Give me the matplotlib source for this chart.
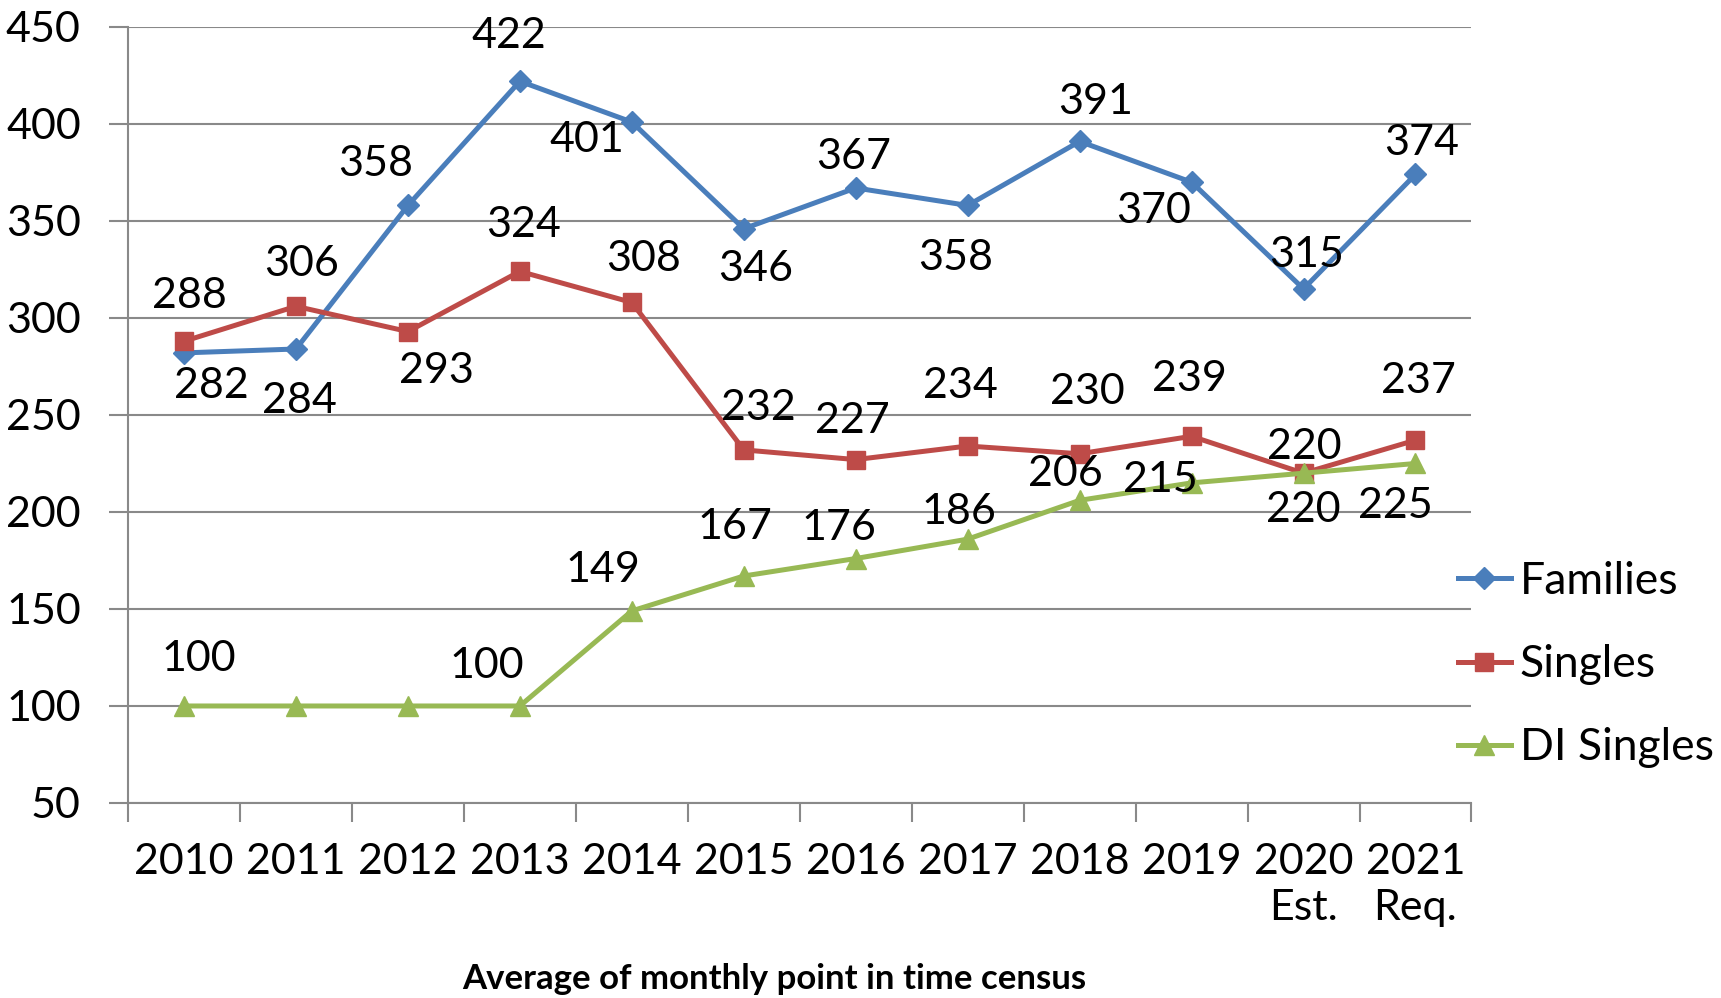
import matplotlib.pyplot as plt

years = ['2010', '2011', '2012', '2013', '2014', '2015', '2016', '2017', '2018', '2019', '2020\nEst.', '2021\nReq.']
families = [282, 284, 358, 422, 401, 346, 367, 358, 391, 370, 315, 374]
singles = [288, 306, 293, 324, 308, 232, 227, 234, 230, 239, 220, 237]
di_singles = [100, 100, 100, 100, 149, 167, 176, 186, 206, 215, 220, 225]
di_labelled = [True, False, False, True, True, True, True, True, True, True, True, True]

# label offsets (px, right / down)
fam_off = [(25, 30), (3, 47), (-29, -38), (-10, -41), (-41, 16), (11, 37),
           (-2, -28), (-11, 48), (15, -36), (-35, 26), (3, -31), (6, -29)]
sin_off = [(5, -41), (5, -39), (26, 36), (3, -42), (11, -40), (13, -38),
           (-3, -35), (-7, -55), (7, -56), (-2, -52), (1, -24), (3, -54)]
di_off = [(13, -43), (0, 0), (0, 0), (-30, -36), (-26, -37), (-8, -45),
          (-15, -28), (-8, -25), (-13, -24), (-28, -3), (0, 34), (-18, 39)]

plt.rcParams['font.family'] = ['Lato', 'DejaVu Sans']

fig = plt.figure(figsize=(17.21, 9.98), dpi=100)
ax = fig.add_axes([0.0744, 0.1954, 0.7806, 0.7776])

blue = '#4A7EBB'
red = '#BE4B48'
green = '#98B954'
x = list(range(len(years)))

ax.plot(x, families, color=blue, lw=3.6, marker='D', ms=11, label='Families')
ax.plot(x, singles, color=red, lw=3.6, marker='s', ms=13, label='Singles')
ax.plot(x, di_singles, color=green, lw=3.6, marker='^', ms=14, label='DI Singles')

k = 1.0976
for vals, offs, show in [(families, fam_off, [True] * 12), (singles, sin_off, [True] * 12),
                         (di_singles, di_off, di_labelled)]:
    for i, v in enumerate(vals):
        if not show[i]:
            continue
        ax.annotate(str(v), (i, v), xytext=(offs[i][0] * k, -offs[i][1] * k),
                    textcoords='offset pixels', ha='center', va='center', fontsize=31)

ax.set_xlim(-0.5, 11.5)
ax.set_ylim(50, 450)
ax.set_yticks(range(50, 451, 50))
ax.grid(axis='y', color='#898989', lw=1.5)
ax.set_axisbelow(True)
for s in ['top', 'right']:
    ax.spines[s].set_visible(False)
for s in ['left', 'bottom']:
    ax.spines[s].set_color('#898989')
    ax.spines[s].set_linewidth(1.5)

ax.set_xticks(x)
ax.set_xticklabels(years, fontsize=31, linespacing=1.25)
ax.set_xticks([i - 0.5 for i in range(13)], minor=True)
ax.tick_params(axis='x', which='major', length=0, pad=29)
ax.tick_params(axis='x', which='minor', length=14, color='#898989', width=1.5)
ax.tick_params(axis='y', length=14, color='#898989', width=1.5, labelsize=31, pad=20)

fig.text(0.45, 0.019, 'Average of monthly point in time census', ha='center', va='center',
         fontsize=25, fontweight='bold')

fig.legend(loc='center left', bbox_to_anchor=(0.847, 0.334), frameon=False, fontsize=32,
           handlelength=1.2, handletextpad=0.2, borderpad=0, borderaxespad=0, labelspacing=0.95)

fig.savefig('out.png', dpi=100)
